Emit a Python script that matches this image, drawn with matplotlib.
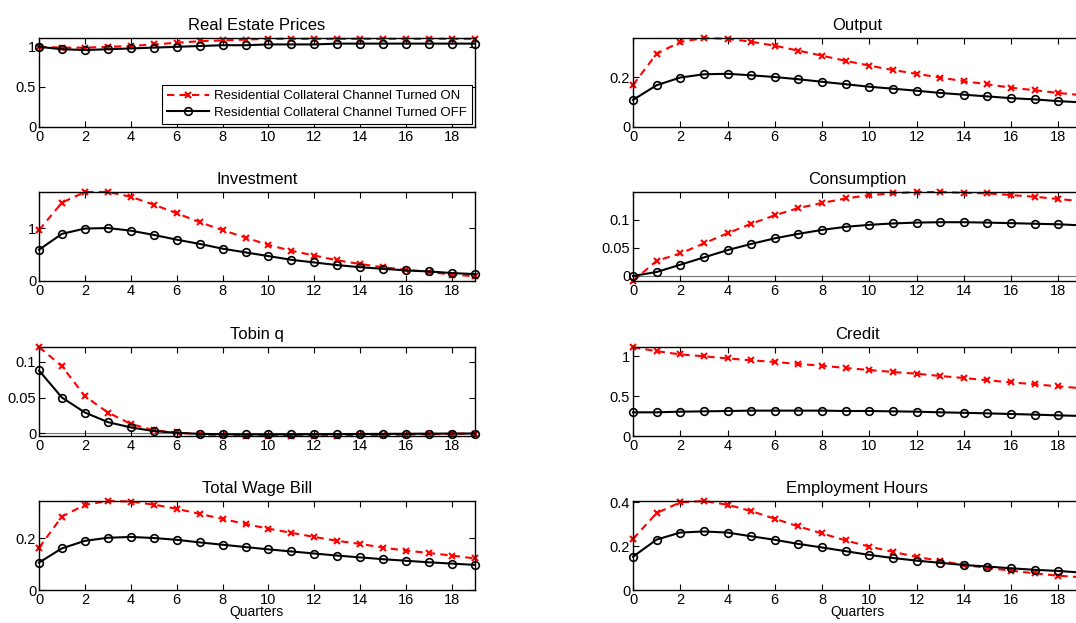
import numpy as np
import matplotlib
matplotlib.use("Agg")
import matplotlib.pyplot as plt

plt.rcParams['font.family'] = ['Liberation Sans', 'DejaVu Sans']

quarters = np.arange(20)

real_estate_on = [1.00, 0.99, 0.99, 1.00, 1.01, 1.03, 1.05, 1.07, 1.08, 1.09,
                  1.10, 1.10, 1.10, 1.10, 1.10, 1.10, 1.10, 1.10, 1.10, 1.10]
real_estate_off = [1.00, 0.97, 0.96, 0.97, 0.98, 0.99, 1.00, 1.01, 1.02, 1.02,
                   1.03, 1.03, 1.03, 1.04, 1.04, 1.04, 1.04, 1.04, 1.04, 1.04]

output_on = [0.169, 0.295, 0.342, 0.358, 0.355, 0.343, 0.327, 0.307, 0.287, 0.266,
             0.247, 0.229, 0.214, 0.199, 0.184, 0.172, 0.158, 0.148, 0.137, 0.128]
output_off = [0.109, 0.168, 0.199, 0.212, 0.214, 0.208, 0.201, 0.192, 0.182, 0.172,
              0.162, 0.154, 0.146, 0.137, 0.130, 0.123, 0.116, 0.111, 0.104, 0.099]

investment_on = [0.96, 1.48, 1.68, 1.68, 1.59, 1.44, 1.28, 1.11, 0.96, 0.82,
                 0.68, 0.57, 0.48, 0.39, 0.32, 0.26, 0.21, 0.17, 0.12, 0.09]
investment_off = [0.59, 0.89, 0.99, 1.00, 0.95, 0.87, 0.78, 0.70, 0.61, 0.54,
                  0.47, 0.40, 0.35, 0.30, 0.26, 0.23, 0.20, 0.18, 0.15, 0.13]

consumption_on = [-0.009, 0.027, 0.040, 0.058, 0.076, 0.093, 0.108, 0.121, 0.130, 0.138,
                  0.144, 0.147, 0.1495, 0.1495, 0.148, 0.147, 0.144, 0.141, 0.137, 0.133]
consumption_off = [0.000, 0.007, 0.020, 0.033, 0.046, 0.057, 0.067, 0.075, 0.082, 0.0875,
                   0.091, 0.0935, 0.095, 0.0957, 0.0957, 0.095, 0.094, 0.093, 0.092, 0.090]

tobin_on = [0.121, 0.094, 0.052, 0.029, 0.013, 0.004, 0.001, -0.0015, -0.003, -0.0035,
            -0.0037, -0.0037, -0.0035, -0.0033, -0.003, -0.0025, -0.002, -0.0015, -0.001, -0.0005]
tobin_off = [0.088, 0.050, 0.029, 0.0155, 0.008, 0.003, 0.0004, -0.001, -0.0015, -0.0017,
             -0.0017, -0.0016, -0.0015, -0.0013, -0.0012, -0.001, -0.0009, -0.0007, -0.0006, -0.0005]

credit_on = [1.11, 1.06, 1.02, 0.996, 0.97, 0.946, 0.925, 0.90, 0.879, 0.85,
             0.825, 0.80, 0.779, 0.75, 0.725, 0.696, 0.671, 0.646, 0.621, 0.596]
credit_off = [0.296, 0.296, 0.304, 0.308, 0.3125, 0.317, 0.317, 0.317, 0.317, 0.3125,
              0.3125, 0.308, 0.304, 0.296, 0.29, 0.283, 0.275, 0.267, 0.258, 0.25]

wage_on = [0.163, 0.284, 0.329, 0.344, 0.342, 0.330, 0.314, 0.294, 0.275, 0.255,
           0.237, 0.221, 0.205, 0.190, 0.178, 0.164, 0.152, 0.143, 0.133, 0.122]
wage_off = [0.106, 0.161, 0.190, 0.202, 0.205, 0.201, 0.194, 0.184, 0.175, 0.166,
            0.157, 0.149, 0.141, 0.133, 0.126, 0.119, 0.113, 0.107, 0.102, 0.097]

hours_on = [0.233, 0.351, 0.400, 0.406, 0.389, 0.360, 0.325, 0.290, 0.258, 0.226,
            0.198, 0.174, 0.151, 0.133, 0.114, 0.101, 0.088, 0.076, 0.065, 0.058]
hours_off = [0.152, 0.230, 0.262, 0.267, 0.262, 0.245, 0.229, 0.210, 0.194, 0.177,
             0.160, 0.146, 0.134, 0.124, 0.114, 0.107, 0.099, 0.092, 0.087, 0.079]

# title, on, off, ylim, yticks, zero line
panels = [
  ("Real Estate Prices", real_estate_on, real_estate_off, (0, 1.11), [0, 0.5, 1], False),
  ("Output", output_on, output_off, (0, 0.358), [0, 0.2], False),
  ("Investment", investment_on, investment_off, (0, 1.68), [0, 1], False),
  ("Consumption", consumption_on, consumption_off, (-0.009, 0.1495), [0, 0.05, 0.1], True),
  ("Tobin q", tobin_on, tobin_off, (-0.004, 0.121), [0, 0.05, 0.1], True),
  ("Credit", credit_on, credit_off, (0, 1.1125), [0, 0.5, 1], False),
  ("Total Wage Bill", wage_on, wage_off, (0, 0.344), [0, 0.2], False),
  ("Employment Hours", hours_on, hours_off, (0, 0.406), [0, 0.2, 0.4], False),
]

W, H = 1076, 623
fig = plt.figure(figsize=(W/100, H/100), dpi=100)

col_left = [(39, 436), (633, 449)]
row_top = [38, 192, 347, 501]
row_h = 89

for i, (title, on, off, ylim, yticks, zline) in enumerate(panels):
  row, col = i // 2, i % 2
  x0, w = col_left[col]
  ax = fig.add_axes([x0/W, 1 - (row_top[row] + row_h)/H, w/W, row_h/H])
  if zline:
    ax.axhline(0, color="0.45", lw=0.8, zorder=1)
  ax.plot(quarters, on, color="red", ls="--", lw=1.5, marker="x",
          ms=4, mew=1.5, dashes=(3.5, 2.5), clip_on=False,
          label="Residential Collateral Channel Turned ON")
  ax.plot(quarters, off, color="black", ls="-", lw=1.5, marker="o",
          ms=5.5, mfc="none", mew=1.2, clip_on=False,
          label="Residential Collateral Channel Turned OFF")
  ax.set_xlim(0, 19)
  ax.set_ylim(*ylim)
  ax.set_xticks(np.arange(0, 19, 2))
  ax.set_yticks(yticks)
  ax.set_yticklabels([("%g" % t) for t in yticks])
  ax.tick_params(direction="in", top=True, right=True, labelsize=10.5,
                 length=4, width=0.8, pad=2)
  for s in ax.spines.values():
    s.set_linewidth(1.0)
  ax.set_title(title, fontsize=12, pad=6)
  if row == 3:
    ax.set_xlabel("Quarters", fontsize=10, labelpad=-1)
  if i == 0:
    leg = ax.legend(loc="lower right", fontsize=9.5, fancybox=False,
                    framealpha=1, edgecolor="black", borderpad=0.35,
                    handlelength=3.2, handletextpad=0.4, labelspacing=0.35,
                    borderaxespad=0.25)
    leg.get_frame().set_linewidth(0.8)

fig.savefig("out.png", dpi=100)
